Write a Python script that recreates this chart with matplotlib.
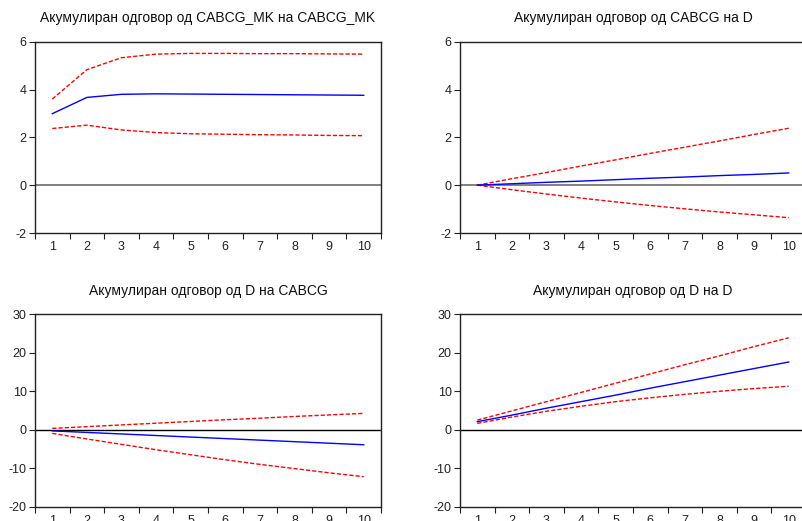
import matplotlib
matplotlib.use("Agg")
import matplotlib.pyplot as plt
import numpy as np

plt.rcParams['font.family'] = ['Liberation Sans', 'DejaVu Sans']
plt.rcParams['axes.unicode_minus'] = False

periods = [1, 2, 3, 4, 5, 6, 7, 8, 9, 10]

titles = [
    "Акумулиран одговор од CABCG_MK на CABCG_MK",
    "Акумулиран одговор од CABCG на D",
    "Акумулиран одговор од D на CABCG",
    "Акумулиран одговор од D на D",
]

resp_11 = [2.99, 3.67, 3.80, 3.82, 3.81, 3.80, 3.79, 3.78, 3.77, 3.76]
up_11 = [3.60, 4.83, 5.33, 5.48, 5.51, 5.51, 5.50, 5.50, 5.49, 5.48]
lo_11 = [2.37, 2.51, 2.31, 2.20, 2.15, 2.13, 2.11, 2.10, 2.08, 2.07]

resp_12 = [0.00, 0.06, 0.12, 0.17, 0.23, 0.29, 0.34, 0.40, 0.45, 0.51]
up_12 = [0.00, 0.27, 0.53, 0.80, 1.06, 1.33, 1.59, 1.85, 2.12, 2.38]
lo_12 = [0.00, -0.19, -0.37, -0.54, -0.70, -0.85, -0.99, -1.12, -1.24, -1.36]

resp_21 = [-0.3, -0.7, -1.1, -1.5, -1.9, -2.3, -2.7, -3.1, -3.5, -3.9]
up_21 = [0.35, 0.8, 1.25, 1.7, 2.15, 2.6, 3.0, 3.45, 3.85, 4.25]
lo_21 = [-0.95, -2.4, -3.8, -5.2, -6.5, -7.8, -9.0, -10.1, -11.2, -12.2]

resp_22 = [2.1, 3.8, 5.6, 7.3, 9.0, 10.8, 12.5, 14.2, 15.9, 17.6]
up_22 = [2.5, 4.9, 7.3, 9.7, 12.1, 14.5, 16.9, 19.2, 21.6, 23.9]
lo_22 = [1.65, 3.3, 4.8, 6.1, 7.3, 8.3, 9.2, 10.0, 10.7, 11.3]

responses = [resp_11, resp_12, resp_21, resp_22]
uppers = [up_11, up_12, up_21, up_22]
lowers = [lo_11, lo_12, lo_21, lo_22]

ylims = [(-2, 6), (-2, 6), (-20, 30), (-20, 30)]
yticks = [[-2, 0, 2, 4, 6], [-2, 0, 2, 4, 6],
          [-20, -10, 0, 10, 20, 30], [-20, -10, 0, 10, 20, 30]]
zero_colors = ['#808080', '#808080', 'black', 'black']
zero_lw = [1.4, 1.4, 1.0, 1.0]

W, H = 803, 521
fig = plt.figure(figsize=(W / 100, H / 100), dpi=100)

boxes = [  # left, top, right, bottom in pixels
    (35, 41.7, 381, 233),
    (460, 41.7, 806, 233),
    (35, 314.3, 381, 506.7),
    (460, 314.3, 806, 506.7),
]

for i in range(4):
    l, t, r, b = boxes[i]
    ax = fig.add_axes([l / W, 1 - b / H, (r - l) / W, (b - t) / H])
    ax.axhline(0, color=zero_colors[i], lw=zero_lw[i], zorder=1)
    ax.plot(periods, uppers[i], color='red', lw=1.0, dashes=(3, 1.5), zorder=3)
    ax.plot(periods, lowers[i], color='red', lw=1.0, dashes=(3, 1.5), zorder=3)
    ax.plot(periods, responses[i], color='blue', lw=1.0, zorder=4)
    ax.set_xlim(0.5, 10.5)
    ax.set_ylim(*ylims[i])
    ax.set_yticks(yticks[i])
    ax.set_xticks(np.arange(0.5, 11, 1.0))
    ax.set_xticklabels([])
    ax.set_xticks(periods, minor=True)
    ax.set_xticklabels([str(p) for p in periods], minor=True)
    ax.tick_params(axis='x', which='minor', length=0, labelsize=9, pad=6, colors='#222222')
    ax.tick_params(axis='x', which='major', length=4, width=0.8, direction='out', color='#222222')
    ax.tick_params(axis='y', length=4, width=0.8, direction='out', labelsize=9, pad=2, color='#222222', labelcolor='#222222')
    for s in ax.spines.values():
        s.set_linewidth(1.0)
        s.set_color('#222222')
    ax.set_title(titles[i], fontsize=10, pad=14, color='#111111')

fig.savefig("out.png", dpi=100)
